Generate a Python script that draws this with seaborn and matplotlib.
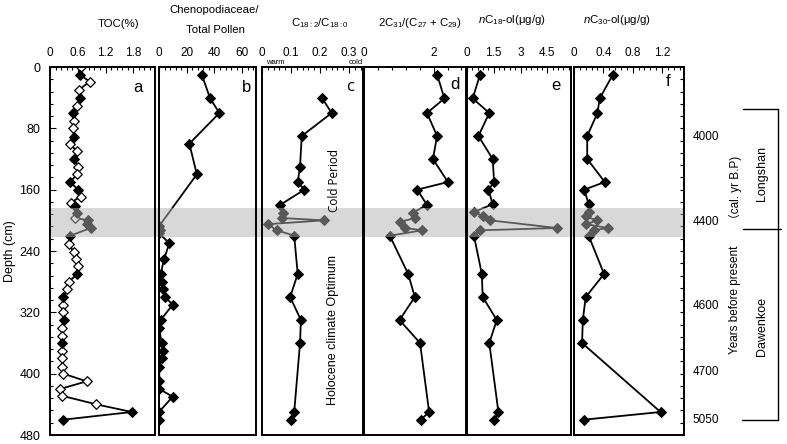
import numpy as np
import pandas as pd
import matplotlib
matplotlib.use('Agg')
import matplotlib.pyplot as plt
import seaborn as sns
from matplotlib.ticker import MultipleLocator
from matplotlib.patches import Rectangle
from matplotlib.lines import Line2D

sns.set_theme(style='white')
plt.rcParams['font.family'] = ['Liberation Sans', 'DejaVu Sans', 'Noto Sans CJK SC']
plt.rcParams['mathtext.fontset'] = 'custom'
plt.rcParams['mathtext.rm'] = 'Liberation Sans'
plt.rcParams['mathtext.it'] = 'Liberation Sans:italic'
plt.rcParams['mathtext.default'] = 'regular'

# ---------------- data ----------------
toc_depth = [0, 10, 19, 30, 41, 51, 60, 70, 80, 91, 100, 110, 120, 130, 140, 150, 160, 169,
             177, 181, 190, 197, 200, 205, 210, 220, 231, 241, 251, 260, 270, 280, 290, 300,
             310, 320, 330, 341, 351, 360, 370, 380, 391, 400, 410, 420, 429, 440, 450, 460]
toc_value = [0.66, 0.64, 0.86, 0.62, 0.65, 0.59, 0.49, 0.51, 0.49, 0.52, 0.43, 0.58, 0.51, 0.61,
             0.59, 0.43, 0.61, 0.66, 0.45, 0.54, 0.58, 0.55, 0.83, 0.80, 0.88, 0.44, 0.41, 0.51,
             0.56, 0.61, 0.59, 0.41, 0.36, 0.29, 0.29, 0.29, 0.31, 0.27, 0.27, 0.27, 0.25, 0.25,
             0.27, 0.29, 0.79, 0.22, 0.27, 1.00, 1.77, 0.29]
toc_filled = [0, 1, 0, 0, 1, 0, 1, 0, 0, 1, 0, 0, 1, 0, 0, 1, 1, 0,
              0, 1, 1, 0, 1, 1, 1, 1, 0, 0, 0, 0, 1, 0, 0, 1,
              0, 0, 1, 0, 0, 1, 0, 0, 0, 0, 0, 0, 0, 0, 1, 1]

cheno_depth = [10, 41, 60, 100, 140, 207, 212, 217, 230, 251, 270, 280, 290, 300, 310, 330,
               341, 360, 370, 380, 391, 410, 420, 430, 450, 460]
cheno_value = [30.9, 36.9, 43.6, 21.9, 27.3, 0.3, 0.5, 0.3, 7.4, 3.6, 1.2, 2.0, 2.7, 4.3, 9.9,
               1.2, 0.0, 2.0, 2.7, 2.0, 0.2, 0.2, 0.2, 9.9, 0.0, 0.2]

c18_depth = [40, 60, 90, 130, 150, 160, 180, 190, 197, 200, 205, 213, 220, 270, 300, 330, 360,
             450, 460]
c18_value = [0.206, 0.240, 0.137, 0.131, 0.123, 0.146, 0.062, 0.073, 0.068, 0.215, 0.020, 0.051,
             0.111, 0.123, 0.097, 0.134, 0.131, 0.111, 0.100]

acl_depth = [10, 41, 60, 90, 120, 150, 160, 180, 190, 197, 202, 210, 213, 220, 270, 300, 330,
             360, 450, 460]
acl_value = [2.10, 2.31, 1.81, 2.10, 1.98, 2.41, 1.53, 1.81, 1.40, 1.46, 1.04, 1.18, 1.68, 0.74,
             1.27, 1.46, 1.02, 1.61, 1.87, 1.63]

c18ol_depth = [10, 41, 60, 90, 120, 150, 160, 179, 189, 195, 200, 210, 213, 220, 270, 300, 330,
               360, 450, 460]
c18ol_value = [0.73, 0.32, 1.25, 0.64, 1.44, 1.52, 1.20, 1.44, 0.39, 0.92, 1.29, 5.04, 0.73,
               0.39, 0.83, 0.88, 1.67, 1.25, 1.76, 1.52]

c30ol_depth = [10, 41, 60, 90, 120, 150, 160, 179, 189, 195, 200, 205, 210, 213, 220, 270, 300,
               330, 360, 450, 460]
c30ol_value = [0.53, 0.35, 0.32, 0.18, 0.18, 0.42, 0.14, 0.20, 0.21, 0.16, 0.31, 0.17, 0.46,
               0.27, 0.20, 0.41, 0.16, 0.12, 0.11, 1.18, 0.14]

depth_ticks = [0, 80, 160, 240, 320, 400, 480]
age_labels = ['4000', '4400', '4600', '4700', '5050']
age_depths = [91, 202, 312, 398, 460]

# ---------------- layout helpers ----------------
W, H = 787, 444
fig = plt.figure(figsize=(W / 100, H / 100), dpi=100)
fig.patch.set_facecolor('white')


def fx(x):
    return x / W


def fy(y):
    return 1 - y / H


TOP, BOT = 67, 435


def make_ax(x0, x1):
    ax = fig.add_axes([fx(x0), fy(BOT), (x1 - x0) / W, (BOT - TOP) / H])
    ax.set_facecolor('white')
    ax.set_ylim(480, 0)
    for sp in ax.spines.values():
        sp.set_color('black')
        sp.set_linewidth(1.4)
        sp.set_zorder(5)
    ax.xaxis.tick_top()
    ax.set_xlabel('')
    ax.set_ylabel('')
    ax.grid(False)
    return ax


# band (depth ~184-222 cm) in gaps between panels
fig.add_artist(Rectangle((fx(50), fy(237)), (684 - 50) / W, (237 - 208) / H,
                         transform=fig.transFigure, color='#d9d9d9', zorder=-1, lw=0))

panels = [
    dict(x=(50, 155), xlim=(0, 2.27), major=[0, 0.6, 1.2, 1.8], labels=['0', '0.6', '1.2', '1.8'], minor=0.12),
    dict(x=(159, 256), xlim=(0, 70), major=[0, 20, 40, 60], labels=['0', '20', '40', '60'], minor=4),
    dict(x=(262, 363), xlim=(0, 0.348), major=[0, 0.1, 0.2, 0.3], labels=['0', '0.1', '0.2', '0.3'], minor=0.02),
    dict(x=(364, 466), xlim=(0, 2.93), major=[0, 2], labels=['0', '2'], minor=0.4),
    dict(x=(467, 571), xlim=(0, 5.83), major=[0, 1.5, 3, 4.5], labels=['0', '1.5', '3', '4.5'], minor=0.3),
    dict(x=(574, 684), xlim=(0, 1.5), major=[0, 0.4, 0.8, 1.2], labels=['0', '0.4', '0.8', '1.2'], minor=0.08),
]

series = [
    (toc_depth, toc_value),
    (cheno_depth, cheno_value),
    (c18_depth, c18_value),
    (acl_depth, acl_value),
    (c18ol_depth, c18ol_value),
    (c30ol_depth, c30ol_value),
]

letters = ['a', 'b', 'c', 'd', 'e', 'f']
letter_pos = [(138, 87), (247, 88), (350, 87), (455, 84), (556, 85), (668, 82)]

axes = []
for i, (p, (dep, val)) in enumerate(zip(panels, series)):
    ax = make_ax(*p['x'])
    df = pd.DataFrame({'depth': dep, 'value': val})
    if i == 0:
        sns.lineplot(data=df, x='value', y='depth', orient='y', estimator=None, sort=True,
                     color='black', lw=1.3, ax=ax, zorder=2)
        dff = pd.DataFrame({'depth': toc_depth, 'value': toc_value, 'filled': toc_filled})
        sns.scatterplot(data=dff[dff.filled == 0], x='value', y='depth', marker='D', s=24,
                        color='white', edgecolor='black', linewidth=0.9, ax=ax, zorder=3)
        sns.scatterplot(data=dff[dff.filled == 1], x='value', y='depth', marker='D', s=24,
                        color='black', edgecolor='black', linewidth=0.9, ax=ax, zorder=3)
    else:
        sns.lineplot(data=df, x='value', y='depth', orient='y', estimator=None, sort=True,
                     color='black', lw=1.3, ax=ax, marker='D', markersize=4.8,
                     markeredgecolor='black', markerfacecolor='black', zorder=2)
    ax.set_xlim(*p['xlim'])
    ax.set_ylim(480, 0)
    ax.set_xlabel('')
    ax.set_ylabel('')
    ax.set_xticks(p['major'])
    ax.set_xticklabels(p['labels'])
    ax.xaxis.set_minor_locator(MultipleLocator(p['minor']))
    ax.tick_params(axis='x', which='both', direction='in', top=True, bottom=False,
                   labeltop=True, labelbottom=False, pad=6, labelsize=8.5, color='black',
                   width=0.8, labelcolor='black')
    ax.tick_params(axis='x', which='major', length=4)
    ax.tick_params(axis='x', which='minor', length=2.5)
    if i == 0:
        ax.set_yticks(depth_ticks)
        ax.set_yticklabels([str(d) for d in depth_ticks])
        ax.yaxis.set_minor_locator(MultipleLocator(16))
        ax.tick_params(axis='y', which='both', direction='in', left=True, right=False,
                       labelleft=True, pad=7, labelsize=9, color='black', width=0.8,
                       labelcolor='black')
        ax.tick_params(axis='y', which='major', length=4)
        ax.tick_params(axis='y', which='minor', length=2.5)
        ax.set_ylabel('Depth (cm)', fontsize=9, color='black', labelpad=2)
    elif i == 5:
        ax.set_yticks(np.arange(0, 481, 16))
        ax.yaxis.set_ticks_position('right')
        ax.tick_params(axis='y', which='both', direction='in', left=False, right=True,
                       labelleft=False, labelright=False, length=3, width=0.8, color='black')
    else:
        ax.set_yticks([])
        ax.tick_params(axis='y', which='both', left=False, right=False, labelleft=False)
    ax.axhspan(184, 222, color='#b3b3b3', alpha=0.5, zorder=4, lw=0)
    lx, ly = letter_pos[i]
    fam = ['Open Sans', 'DejaVu Sans'] if i == 2 else ['Liberation Sans', 'DejaVu Sans']
    fig.text(fx(lx), fy(ly), letters[i], fontsize=12, ha='center', va='center',
             color='black', family=fam)
    axes.append(ax)

# ---------------- titles ----------------
tfs = 8.2
fig.text(fx(118), fy(24), 'TOC(%)', fontsize=tfs, ha='center', va='center', color='black')
fig.text(fx(214), fy(10), 'Chenopodiaceae/', fontsize=tfs, ha='center', va='center', color='black')
fig.text(fx(215), fy(30), 'Total Pollen', fontsize=tfs, ha='center', va='center', color='black')
fig.text(fx(320), fy(23), r'C$_{18:2}$/C$_{18:0}$', fontsize=tfs, ha='center', va='center', color='black')
fig.text(fx(420), fy(23), r'2C$_{31}$/(C$_{27}$ + C$_{29}$)', fontsize=tfs, ha='center', va='center', color='black')
fig.text(fx(512), fy(20), r'$\mathit{n}$C$_{18}$-ol(μg/g)', fontsize=tfs, ha='center', va='center', color='black')
fig.text(fx(617), fy(20), r'$\mathit{n}$C$_{30}$-ol(μg/g)', fontsize=tfs, ha='center', va='center', color='black')

fig.text(fx(275), fy(63), 'warm', fontsize=5.5, ha='center', va='center', color='black')
fig.text(fx(356), fy(63), 'cold', fontsize=5.5, ha='center', va='center', color='black')

fig.text(fx(335), fy(180), 'Cold Period', fontsize=8.5, rotation=90, ha='center', va='center',
         color='black', family=['Open Sans', 'DejaVu Sans'])
fig.text(fx(333), fy(330), 'Holocene climate Optimum', fontsize=9, rotation=90, ha='center',
         va='center', color='black')

# ---------------- right-hand age scale ----------------
for lab, d in zip(age_labels, age_depths):
    yy = TOP + d * (BOT - TOP) / 480
    fig.text(fx(706), fy(yy), lab, fontsize=8.5, ha='center', va='center', color='black')

fig.text(fx(735), fy(190), '（cal. yr B.P)', fontsize=8.5, rotation=90, ha='center', va='center',
         color='black', family=['Liberation Sans', 'Noto Sans CJK SC'])
fig.text(fx(735), fy(300), 'Years before present', fontsize=8.5, rotation=90, ha='center',
         va='center', color='black')
fig.text(fx(762), fy(173), 'Longshan', fontsize=9, rotation=90, ha='center', va='center', color='black')
fig.text(fx(762), fy(326), 'Dawenkoe', fontsize=9, rotation=90, ha='center', va='center', color='black')

lw = 1.0
for (xa, ya, xb, yb) in [(743, 109, 778, 109), (778, 109, 778, 420), (743, 229, 781, 229),
                         (742, 420, 778, 420)]:
    fig.add_artist(Line2D([fx(xa), fx(xb)], [fy(ya), fy(yb)], transform=fig.transFigure,
                          color='black', lw=lw))

fig.savefig('out.png', dpi=100, facecolor='white')
